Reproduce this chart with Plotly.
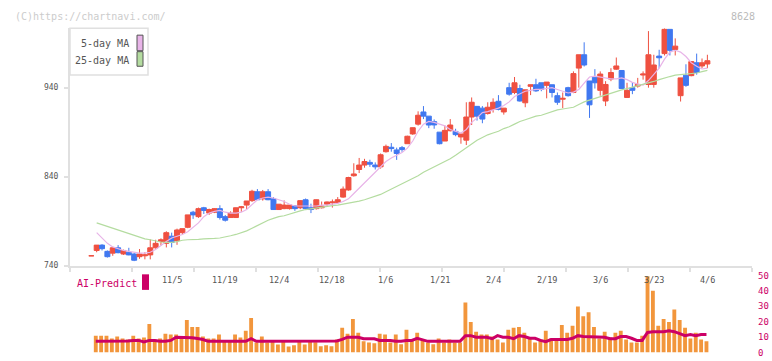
import plotly.graph_objects as go

# ---------------- data ----------------
opens = [751,757,763,756,754,760,753,755,753,750,751,752,760,767,765,773,768,777,783,800,
         795,805,799,800,804,795,794,794,805,808,813,823,815,823,815,803,804,804,807,805,
         814,805,804,805,809,810.5,811,817,825,841,848,853,856,853,851,868,873,870,872.6,877,
         888,899,912.7,908,901.8,890,880,891.6,890.8,884.6,881,907,919,917,911,915.6,924.7,912.7,940,934.6,
         939,923,941.5,943.3,945.5,942.6,943.3,931,927,940,934.6,962,977,947.5,951.8,937,925,949.7,960.8,959.3,
         929,940,941.8,954.2,943.6,943.6,975.5,978.3,1005.6,983,931,954,953.5,968,964.4,966.6]
highs = [751,763,764,757,761,763,758,760,754,758.6,755,769.5,769,770.6,778.6,777,781.5,781.5,797,801.5,
         805.2,806,804,804.5,807.8,796.8,801,805.2,807,812.6,825.2,826,825,826,817,809,813.2,808,808,813.5,
         815.4,809.6,814.3,812,812,814.3,817,828.9,839.8,855,861,860,859,856,866,876,877.7,872.6,874.4,886,
         895.2,913.4,919.3,908,904.3,890,897.4,904.7,893.8,888,923.6,929,919.3,919.3,923.6,928,931.6,917,945.5,952,
         943.3,937.6,943.3,950,945.5,946.3,943.3,934.6,934.6,941,958.3,977,991,947.5,960.8,958.3,947.3,961.9,973.9,959.3,
         945.5,946.3,951,958.3,1003.6,977,982.6,1006.7,1005.6,995.4,951,966.3,969.3,978.3,972.8,977]
lows = [751,755,757,749,751,753.8,752,751.6,745,747.6,747,747,759,762.6,760.4,760.4,763.3,775,782,792.5,
        793.6,798,797,799,791.7,789.5,794,793.6,800.5,803.4,811.5,814,813,813.5,802.7,802.7,803.4,803,801.5,803.4,
        802.7,799,803,804.2,807,805.2,810,816.2,824.2,840,844,850,851,848,849,867,868,858.8,867.9,877,
        887,897.4,904.7,894.5,893.8,876.3,880,890.8,885.4,877,875.5,898,903,900,909.7,912,914.5,909.7,931,932.7,
        924.4,918,931.6,935.3,936,928,929,920.7,917,930,933.8,940,963.8,906,939,931,919.3,947.3,960,939,
        929,932.7,940,949,940,940,961.9,976.2,976.2,976.2,924.4,941,952.8,954.6,961.9,961.9]
closes = [751,763,759,750,760,754.5,757,752,746,753,752,760,765,769,777,766,780,781.5,797,797,
          804,802,803,804,794,791,799,805,806,812.6,823.5,814,823,814,803,809,808,808,804,813,
          804,803,814,807,811.5,811.5,814,826,839,843,853,857,854,851,864.6,874,871.5,866,870.4,885.4,
          895,909,908,898,898.1,877,892,898,887.2,888,907,923.6,908,904.7,918,923.6,915.6,917,932.7,945.5,
          925,937.6,943.3,936.4,938.2,946.3,934.6,923.6,928,931,955.8,977,965.5,920.7,945.5,955.3,943.6,957,964.4,939,
          937,937,943.6,955.3,977,965.5,973.6,1005.6,982,986.7,951,942.6,969.3,957,968,970.3]

ma5 = [None,777,771,765,761,759,757,756,755,754,754,755,758,763,767,771,773,775,778,783,
       788,795,799,801,802,800,799,799,800,803,809,814,816,817,816,814,812,809,807,807,
       807,807,807,808,808,809,810,812,815,821,827,833,840,846,852,857,861,864,867,872,
       880,891,899,902,901,899,897,893,891,889,893,901,906,912,913,915,917,920,924,930,
       933,936,937,938,938,939,940,938,936,934,935,938,945,952,953,952,951,950,950,951,
       949,946,944,943,948,955,962,972,980,982,980,975,968,964,961,962]
ma25 = [None,788,786,784,782,780,778,776,774,772,770,769,767.5,766.5,766,766,767,768.5,769,769,
        769.5,770,770,770.5,771,772,773.5,775,777,779,782,785,788,791,793,795,796,798,800,801.5,
        803,804,805,806,807,807.5,808,809,810,811,812.5,814,816,818,820,823,826,829,832,835,
        838,841,845,848,851,854,857,860,864,868,872,877,881,884,887,889,891,894,896,899,
        902,904,906,908,909,911,913,915,916,917,918,921,924,926,928,930,932,934,936,937.5,
        939,940.5,942,944,945.5,947,949,951,952.5,954,954.5,955,955.5,956.5,958,959.5]

volume = [None,10.9,10.9,10.9,9.0,10.3,9.0,8.4,10.9,9.0,9.7,18.5,8.4,9.0,12.2,11.6,11.6,10.3,21.1,16.6,
          16.6,10.3,9.0,9.0,11.6,7.2,7.2,11.6,9.7,14.1,22.4,6.5,10.3,6.5,7.2,5.2,7.2,3.9,4.6,7.2,
          5.2,7.0,6.6,4.0,4.6,4.0,8.4,16.0,12.2,21.7,12.8,7.2,6.5,5.9,12.2,11.6,6.5,11.6,5.25,14.7,
          8.4,12.8,8.4,6.5,5.25,9.0,6.5,8.4,6.5,6.5,32.5,19.8,13.5,11.6,11.6,10.3,8.4,6.5,14.7,16.0,
          16.6,12.8,9.7,6.5,8.4,14.1,9.0,9.0,17.9,12.8,17.3,29.9,23.6,26.1,16.6,9.0,13.5,9.7,12.8,14.1,
          8.4,6.5,6.5,10.9,49.6,40.1,17.3,21.7,19.8,28.0,21.1,16.0,9.0,12.8,8.4,7.2]
ai_predict = [None,7.2,7.2,7.2,7.2,7.2,7.2,7.5,7.8,7.8,6.8,7.8,7.8,7.2,7.2,7.8,9.9,9.9,9.5,9.5,
              9.0,8.4,7.2,7.2,7.2,7.2,7.2,7.2,7.2,7.2,8.9,7.2,7.2,7.2,7.2,7.2,7.2,7.2,7.2,7.2,
              7.2,7.2,7.2,7.2,7.2,7.2,7.5,8.5,9.9,9.9,9.9,8.9,8.9,8.9,7.8,7.8,7.8,7.2,7.2,7.8,
              7.8,9.2,8.0,7.2,7.2,7.2,7.2,7.2,7.2,7.2,10.9,10.9,9.9,9.9,9.9,8.9,10.9,9.9,9.9,8.9,
              10.9,10.3,9.2,9.2,7.8,7.0,8.4,8.4,8.4,8.4,9.2,10.9,10.3,10.3,10.3,9.9,9.9,8.9,8.9,10.3,
              10.3,9.2,7.8,7.8,13.0,13.5,13.5,13.5,14.1,13.5,12.2,10.9,11.6,10.9,11.6,11.6]

date_labels = ["11/5", "11/19", "12/4", "12/18", "1/6", "1/21", "2/4", "2/19", "3/6", "3/23", "4/6"]
date_label_idx = [15, 25, 35, 45, 55, 65, 75, 85, 95, 105, 115]
price_ticks = [740, 840, 940]
volume_ticks = [0, 10, 20, 30, 40, 50]

idx = list(range(len(closes)))

# ---------------- layout helpers ----------------
W, H = 772, 361
def px_x(p): return p / W
def px_y(p): return 1 - p / H

X_LEFT, X_RIGHT = 70, 752
XR = [-3.98, 123.33]
FONT = "DejaVu Sans Mono"
RED, BLUE = "#ef5040", "#4078f0"

fig = go.Figure()

fig.add_trace(go.Candlestick(
    x=idx, open=opens, high=highs, low=lows, close=closes,
    increasing=dict(line=dict(color=RED, width=1), fillcolor=RED),
    decreasing=dict(line=dict(color=BLUE, width=1), fillcolor=BLUE),
    whiskerwidth=0, xaxis="x", yaxis="y", showlegend=False, hoverinfo="skip"))

fig.add_trace(go.Scatter(x=idx, y=ma5, mode="lines", line=dict(color="#e8b4e8", width=1.2),
                         xaxis="x", yaxis="y", showlegend=False, hoverinfo="skip"))
fig.add_trace(go.Scatter(x=idx, y=ma25, mode="lines", line=dict(color="#b4dca0", width=1.2),
                         xaxis="x", yaxis="y", showlegend=False, hoverinfo="skip"))

fig.add_trace(go.Bar(x=[i - 0.17 for i in idx], y=volume, width=0.72, marker=dict(color="#f2963c", line=dict(width=0)),
                     xaxis="x2", yaxis="y2", showlegend=False, hoverinfo="skip"))
fig.add_trace(go.Scatter(x=[i - 0.17 for i in idx], y=ai_predict, mode="lines",
                         line=dict(color="#cc0066", width=3), xaxis="x2", yaxis="y2",
                         showlegend=False, hoverinfo="skip"))

xticks = [XR[0] + k * (XR[1] - XR[0]) / 11 for k in range(12)]

fig.update_layout(
    width=W, height=H, margin=dict(l=0, r=0, t=0, b=0), autosize=False,
    paper_bgcolor="white", plot_bgcolor="white",
    boxgap=0.07, boxgroupgap=0,
    font=dict(family=FONT, color="#555"),
    xaxis=dict(domain=[px_x(X_LEFT), px_x(X_RIGHT)], range=XR, anchor="y",
               showgrid=False, zeroline=False, showline=True, linecolor="#e0e0e0", linewidth=2,
               tickmode="array", tickvals=xticks, ticks="outside", ticklen=4, tickwidth=2,
               tickcolor="#e0e0e0", showticklabels=False, rangeslider=dict(visible=False), fixedrange=True),
    yaxis=dict(domain=[px_y(268), px_y(24)], range=[740, 1006.7], anchor="x",
               showgrid=False, zeroline=False, showline=True, linecolor="#e0e0e0", linewidth=2,
               tickmode="array", tickvals=price_ticks, ticks="outside", ticklen=4, tickwidth=2,
               tickcolor="#e0e0e0", tickfont=dict(size=8, color="#555", family=FONT),
               ticklabelstandoff=4, fixedrange=True),
    xaxis2=dict(domain=[px_x(X_LEFT), px_x(X_RIGHT)], range=XR, anchor="y2", visible=False),
    yaxis2=dict(domain=[px_y(357.3), px_y(278.3)], range=[0, 50], anchor="x2", side="right",
                showgrid=False, zeroline=False, showline=False, ticks="",
                tickmode="array", tickvals=volume_ticks,
                tickfont=dict(size=9, color="#cc0066", family=FONT), ticklabelstandoff=5),
)

annotations = []
for lab, i in zip(date_labels, date_label_idx):
    annotations.append(dict(x=i, y=px_y(283), xref="x2", yref="paper", text=lab, showarrow=False,
                            font=dict(size=8.5, color="#555", family=FONT), xanchor="center", yanchor="middle"))
annotations += [
    dict(x=px_x(13), y=px_y(12), xref="paper", yref="paper", text="(C)https://chartnavi.com/",
         showarrow=False, xanchor="left", yanchor="middle", font=dict(size=10, color="#cccccc", family=FONT)),
    dict(x=px_x(757), y=px_y(12), xref="paper", yref="paper", text="8628",
         showarrow=False, xanchor="right", yanchor="middle", font=dict(size=10, color="#bbbbbb", family=FONT)),
    dict(x=px_x(131), y=px_y(40), xref="paper", yref="paper", text="5-day MA",
         showarrow=False, xanchor="right", yanchor="middle", font=dict(size=10, color="#555", family=FONT)),
    dict(x=px_x(131), y=px_y(57), xref="paper", yref="paper", text="25-day MA",
         showarrow=False, xanchor="right", yanchor="middle", font=dict(size=10, color="#555", family=FONT)),
    dict(x=px_x(75), y=px_y(286), xref="paper", yref="paper", text="AI-Predict",
         showarrow=False, xanchor="left", yanchor="middle", font=dict(size=10, color="#cc0066", family=FONT)),
]
fig.update_layout(annotations=annotations)

shapes = [
    dict(type="rect", xref="paper", yref="paper", x0=px_x(70), x1=px_x(148), y0=px_y(72), y1=px_y(24),
         line=dict(color="#e0e0e0", width=1.5), fillcolor="rgba(255,255,255,0)"),
    dict(type="rect", xref="paper", yref="paper", x0=px_x(137), x1=px_x(143), y0=px_y(47), y1=px_y(31),
         line=dict(color="#555", width=1), fillcolor="#e8b4e8"),
    dict(type="rect", xref="paper", yref="paper", x0=px_x(137), x1=px_x(143), y0=px_y(63), y1=px_y(48),
         line=dict(color="#555", width=1), fillcolor="#b4dca0"),
    dict(type="rect", xref="paper", yref="paper", x0=px_x(142), x1=px_x(149), y0=px_y(293), y1=px_y(277),
         line=dict(width=0), fillcolor="#cc0066"),
]
fig.update_layout(shapes=shapes)

fig.write_html("out.html", config={"displayModeBar": False},
               post_script="document.body.style.margin='0';document.body.style.padding='0';")
